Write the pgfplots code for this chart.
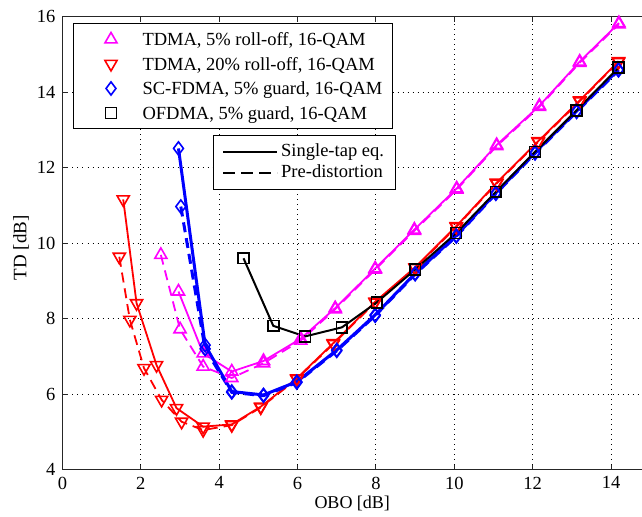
\documentclass[border=0pt]{standalone}
\usepackage{fontspec}
\setmainfont{Liberation Serif}
\usepackage{pgfplots}
\pgfplotsset{compat=1.18}

\definecolor{mag}{RGB}{255,0,255}

% 1 px of the reference = 0.5pt
\pgfplotsset{
  obo/.style={scale only axis, width=289.75pt, height=226.5pt,
    xmin=0, xmax=14.79, ymin=4, ymax=16},
  tri/.style={mark=triangle, mark size=3.5pt, mark options={solid, line width=0.8pt}},
  dtri/.style={mark=triangle, mark size=3.5pt, mark options={solid, rotate=180, line width=0.8pt}},
  dia/.style={mark=diamond, mark size=3.3pt, mark options={solid, line width=0.8pt}},
  sqr/.style={mark=square, mark size=2.7pt, mark options={solid, line width=0.8pt}},
  pre/.style={dash pattern=on 5pt off 3pt},
}

\begin{document}
\begin{tikzpicture}
\begin{axis}[obo,
  axis x line*=box, axis y line*=left,
  axis line style={line width=0.6pt, black!85},
  xtick={0,2,...,14}, ytick={4,6,...,16},
  tick align=inside, major tick length=2.5pt,
  tick style={black!85, line width=0.5pt},
  grid=major,
  major grid style={black, line width=0.5pt, dash pattern=on 0.5pt off 2pt},
  tick label style={font=\fontsize{9.25pt}{11pt}\selectfont},
  /pgf/number format/assume math mode=true,
  xlabel={OBO [dB]}, ylabel={TD [dB]},
  every axis x label/.style={at={([yshift=-16.8pt]axis description cs:0.5,0)},
    anchor=center, font=\fontsize{9pt}{11pt}\selectfont},
  every axis y label/.style={at={([xshift=-20.75pt]axis description cs:0,0.49)},
    anchor=center, rotate=90, font=\fontsize{9.5pt}{11pt}\selectfont},
  legend style={at={([xshift=5.25pt,yshift=-3.4pt]axis description cs:0,1)},
    anchor=north west, draw=black, line width=0.5pt, fill=white,
    inner xsep=3pt, inner ysep=1.6pt, row sep=0pt,
    font=\fontsize{9.25pt}{11pt}\selectfont,
    nodes={inner xsep=2pt, inner ysep=0pt, text height=9.3pt, text depth=2.95pt}},
  legend cell align=left,
  legend image code/.code={\path (0pt,0pt) (29pt,0pt);
    \draw[#1] plot coordinates {(15.5pt,0pt)};},
]
\addlegendimage{only marks, mag, tri}
\addlegendentry{TDMA, 5\% roll-off, 16-QAM}
\addlegendimage{only marks, red, dtri}
\addlegendentry{TDMA, 20\% roll-off, 16-QAM}
\addlegendimage{only marks, blue, dia}
\addlegendentry{SC-FDMA, 5\% guard, 16-QAM}
\addlegendimage{only marks, black, sqr}
\addlegendentry{OFDMA, 5\% guard, 16-QAM}

% TDMA, 5% roll-off
\addplot[forget plot, mag, line width=0.9pt, tri] coordinates {
  (2.96,8.72) (3.59,7.08) (4.32,6.60) (5.13,6.88) (6.08,7.47) (6.96,8.28)
  (7.98,9.33) (8.98,10.36) (10.06,11.45) (11.08,12.60) (12.17,13.64)
  (13.20,14.81) (14.20,15.83)};
\addplot[forget plot, mag, line width=0.9pt, pre, tri] coordinates {
  (2.51,9.69) (3.00,7.72) (3.59,6.73) (4.32,6.43) (5.13,6.82) (6.08,7.42)
  (6.96,8.25) (7.98,9.30) (8.98,10.33) (10.06,11.42) (11.08,12.57)
  (12.17,13.61) (13.20,14.78) (14.20,15.80)};
% TDMA, 20% roll-off
\addplot[forget plot, red, line width=0.9pt, dtri] coordinates {
  (1.55,11.16) (1.89,8.41) (2.40,6.77) (2.91,5.63) (3.59,5.14) (4.32,5.20)
  (5.06,5.67) (5.98,6.42) (6.91,7.35) (7.98,8.45) (9.00,9.36) (10.05,10.45)
  (11.08,11.60) (12.14,12.70) (13.20,13.78) (14.19,14.82)};
\addplot[forget plot, red, line width=0.9pt, pre, dtri] coordinates {
  (1.45,9.64) (1.72,7.97) (2.08,6.69) (2.53,5.85) (3.04,5.27) (3.59,5.05)
  (4.32,5.18) (5.06,5.65) (5.98,6.40) (6.91,7.33) (7.98,8.43) (9.00,9.34)
  (10.05,10.43) (11.08,11.58) (12.14,12.68) (13.20,13.76) (14.19,14.80)};
% SC-FDMA, 5% guard
\addplot[forget plot, blue, line width=1.5pt, dia] coordinates {
  (2.96,12.51) (3.64,7.30) (4.32,6.07) (5.13,5.98) (5.98,6.33) (7.00,7.17)
  (7.98,8.10) (9.00,9.20) (10.05,10.20) (11.06,11.33) (12.06,12.40)
  (13.12,13.50) (14.19,14.60)};
\addplot[forget plot, blue, line width=1.5pt, pre, dia] coordinates {
  (3.02,10.97) (3.64,7.20) (4.32,6.05) (5.13,5.96) (5.98,6.31) (7.00,7.15)
  (7.98,8.08) (9.00,9.18) (10.05,10.18) (11.06,11.31) (12.06,12.38)
  (13.12,13.48) (14.19,14.58)};
% OFDMA, 5% guard
\addplot[forget plot, black, line width=1pt, sqr] coordinates {
  (4.62,9.60) (5.38,7.81) (6.19,7.53) (7.13,7.77) (8.02,8.43) (9.00,9.30)
  (10.05,10.27) (11.06,11.36) (12.06,12.42) (13.12,13.52) (14.19,14.65)};
\end{axis}

\begin{axis}[obo, hide axis,
  legend style={at={([xshift=75.1pt,yshift=-59.15pt]axis description cs:0,1)},
    anchor=north west, draw=black, line width=0.5pt, fill=white,
    inner xsep=4.5pt, inner ysep=3pt, row sep=0pt,
    font=\fontsize{9.25pt}{11pt}\selectfont,
    nodes={inner xsep=1.5pt, inner ysep=0pt, text height=7.5pt, text depth=3pt}},
  legend cell align=left,
  legend image code/.code={\draw[#1] (0pt,0pt) -- (27pt,0pt);},
]
\addlegendimage{black, line width=1pt}
\addlegendentry{Single-tap eq.}
\addlegendimage{black, line width=1pt, dash pattern=on 6pt off 3pt}
\addlegendentry{Pre-distortion}
\end{axis}

\pgfresetboundingbox
\path[use as bounding box] (-31.25pt,-23.65pt) rectangle (289.75pt,234.85pt);
\end{tikzpicture}
\end{document}
